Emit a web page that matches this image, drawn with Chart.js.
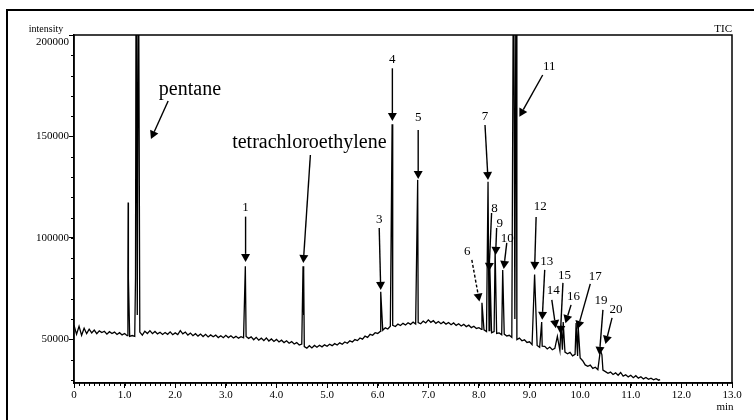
<!DOCTYPE html>
<html>
<head>
<meta charset="utf-8">
<script src="https://cdn.jsdelivr.net/npm/chart.js@4/dist/chart.umd.min.js"></script>
<style>
  html, body { margin: 0; padding: 0; background: #fff; overflow: hidden; }
  #wrap { position: relative; width: 754px; height: 420px; }
  #frame { position: absolute; left: 6px; top: 9px; width: 820px; height: 480px;
           border-top: 2.5px solid #000; border-left: 2.5px solid #000; pointer-events: none; }
</style>
</head>
<body>
<div id="wrap">
  <canvas id="tic" width="754" height="420"></canvas>
  <div id="frame"></div>
</div>
<script>
// retention time (min) and intensity of the noisy baseline
const baseTime = [
  0.00, 0.05, 0.10, 0.15, 0.20, 0.25, 0.30, 0.35, 0.40, 0.45, 0.50, 0.55, 0.60, 0.65, 0.70, 0.75, 0.80, 0.85, 0.90, 0.95,
  1.00, 1.05, 1.10, 1.15, 1.20, 1.30, 1.35, 1.40, 1.45, 1.50, 1.55, 1.60, 1.65, 1.70, 1.75, 1.80, 1.85, 1.90, 1.95,
  2.00, 2.05, 2.10, 2.15, 2.20, 2.25, 2.30, 2.35, 2.40, 2.45, 2.50, 2.55, 2.60, 2.65, 2.70, 2.75, 2.80, 2.85, 2.90, 2.95,
  3.00, 3.05, 3.10, 3.15, 3.20, 3.25, 3.30, 3.35, 3.40, 3.45, 3.50, 3.55, 3.60, 3.65, 3.70, 3.75, 3.80, 3.85, 3.90, 3.95,
  4.00, 4.05, 4.10, 4.15, 4.20, 4.25, 4.30, 4.35, 4.40, 4.45, 4.50, 4.55, 4.60, 4.65, 4.70, 4.75, 4.80, 4.85, 4.90, 4.95,
  5.00, 5.05, 5.10, 5.15, 5.20, 5.25, 5.30, 5.35, 5.40, 5.45, 5.50, 5.55, 5.60, 5.65, 5.70, 5.75, 5.80, 5.85, 5.90, 5.95,
  6.00, 6.05, 6.10, 6.15, 6.20, 6.25, 6.30, 6.35, 6.40, 6.45, 6.50, 6.55, 6.60, 6.65, 6.70, 6.75, 6.80, 6.85, 6.90, 6.95,
  7.00, 7.05, 7.10, 7.15, 7.20, 7.25, 7.30, 7.35, 7.40, 7.45, 7.50, 7.55, 7.60, 7.65, 7.70, 7.75, 7.80, 7.85, 7.90, 7.95,
  8.00, 8.05, 8.10, 8.15, 8.20, 8.25, 8.30, 8.35, 8.40, 8.45, 8.50, 8.55, 8.60, 8.65, 8.75, 8.80, 8.85, 8.90, 8.95,
  9.00, 9.05, 9.15, 9.20, 9.25, 9.30, 9.35, 9.40, 9.45, 9.50, 9.60, 9.65, 9.70, 9.75, 9.80, 9.85, 9.90, 9.95,
  10.00, 10.05, 10.10, 10.15, 10.20, 10.25, 10.30, 10.35, 10.45, 10.50, 10.55, 10.60, 10.65, 10.70, 10.75, 10.80, 10.85, 10.90, 10.95,
  11.00, 11.05, 11.10, 11.15, 11.20, 11.25, 11.30, 11.35, 11.40, 11.45, 11.50, 11.55, 11.58
];
const baseIntensity = [
  57000, 52500, 56500, 52000, 55500, 52800, 55000, 53200, 54600, 52800, 54200, 53400, 54000, 52600, 53800, 52900, 53600, 52400, 53300, 52200,
  52900, 51800, 51500, 51900, 51500, 53600, 52100, 54000, 52900, 54300, 52800, 53900, 52700, 53500, 52400, 53400, 52500, 53700, 52300,
  53200, 52400, 54300, 52700, 53600, 52100, 53100, 51800, 52800, 51600, 52600, 51400, 52500, 51200, 52200, 51300, 52100, 50900, 51800, 50800,
  52000, 50900, 51800, 50700, 51500, 50600, 51300, 50800, 51400, 50500, 51200, 49800, 51000, 49600, 50600, 49400, 50700, 49200, 50200, 49000,
  50000, 48700, 49600, 48400, 49300, 48100, 48900, 47700, 48400, 47200, 47700, 46400, 45700, 46900, 45800, 47000, 46100, 47100, 46300, 47300,
  46600, 47600, 46900, 47900, 47200, 48300, 47600, 48700, 48100, 49300, 48700, 49900, 49400, 50700, 50100, 51600, 51000, 52500, 52000, 53300,
  52900, 53900, 54500, 55700, 55100, 56500, 56900, 56300, 57500, 56800, 57900, 57100, 58200, 57400, 58500, 57600, 58300, 57700, 59000, 58100,
  59600, 58400, 59200, 57900, 58800, 57700, 58600, 57500, 58300, 57200, 58100, 56900, 57700, 56600, 57400, 56300, 57000, 55800, 56500, 55400,
  55800, 54900, 54700, 53900, 54300, 53300, 53800, 52900, 53200, 52300, 52600, 51700, 52000, 51000, 49900, 50600, 49300, 49800, 48500,
  48800, 47400, 47000, 46100, 46700, 46600, 45300, 46200, 44900, 45600, 44500, 44900, 43700, 42900, 43600, 41900, 42600, 41800,
  40800, 39500, 37400, 36700, 37300, 35700, 36300, 35100, 34900, 34100, 33300, 33900, 32700, 33500, 32300, 33700, 31900, 32600, 31500,
  32300, 31100, 32100, 30900, 31600, 30500, 31200, 30300, 30900, 30100, 30600, 29900, 30200
];

// peak apexes (some peaks are drawn as double lines)
const peakTime = [
  1.065, 1.07, 1.075, 1.215, 1.228, 1.25, 1.273, 3.385, 4.525, 4.535, 4.54,
  6.06, 6.285, 6.292, 6.298, 6.79, 8.06, 8.18, 8.215, 8.32, 8.47, 8.685, 8.71, 8.735,
  9.10, 9.24, 9.55, 9.62, 9.665, 9.92, 9.94, 9.96, 10.40, 10.43
];
const peakIntensity = [
  82000, 117500, 80000, 80000, 260000, 62000, 260000, 86000, 86000, 62000, 83000,
  73500, 156000, 62000, 152000, 128600, 68000, 127700, 86000, 94000, 84200, 260000, 60000, 260000,
  82000, 58500, 51500, 57000, 58500, 58000, 46000, 57000, 44800, 42400
];

const timeTicks = ['0', '1.0', '2.0', '3.0', '4.0', '5.0', '6.0', '7.0', '8.0', '9.0', '10.0', '11.0', '12.0', '13.0'];
const intensityTicks = [50000, 100000, 150000, 200000];

// labels and arrows, placed in (time, intensity)
const notes = [
  { text: 'pentane', t: 2.29, v: 170400, size: 20 },
  { text: 'tetrachloroethylene', t: 4.65, v: 144300, size: 20 },
  { text: '1', t: 3.39, v: 113450 }, { text: '3', t: 6.03, v: 107240 },
  { text: '4', t: 6.29, v: 185960 }, { text: '5', t: 6.80, v: 157780 },
  { text: '6', t: 7.77, v: 91620 }, { text: '7', t: 8.12, v: 158130 },
  { text: '8', t: 8.31, v: 112950 }, { text: '9', t: 8.41, v: 105570 },
  { text: '10', t: 8.56, v: 98180 }, { text: '11', t: 9.39, v: 182760 },
  { text: '12', t: 9.21, v: 113790 }, { text: '13', t: 9.34, v: 86700 },
  { text: '14', t: 9.47, v: 72270 }, { text: '15', t: 9.69, v: 79650 },
  { text: '16', t: 9.87, v: 69460 }, { text: '17', t: 10.30, v: 79310 },
  { text: '19', t: 10.41, v: 67490 }, { text: '20', t: 10.71, v: 63200 }
];
const arrows = [
  { from: [1.86, 167480], to: [1.52, 148770] },
  { from: [4.67, 140880], to: [4.53, 87680] },
  { from: [3.39, 110490], to: [3.39, 88180] },
  { from: [6.03, 104920], to: [6.06, 74380] },
  { from: [6.29, 183590], to: [6.29, 157630] },
  { from: [6.80, 153200], to: [6.80, 129060] },
  { from: [7.86, 89160], to: [8.01, 68620], dashed: true },
  { from: [8.12, 155670], to: [8.18, 128570] },
  { from: [8.25, 112310], to: [8.20, 83740] },
  { from: [8.35, 104920], to: [8.33, 91620] },
  { from: [8.55, 97540], to: [8.49, 84730] },
  { from: [9.26, 180290], to: [8.80, 159750] },
  { from: [9.13, 110340], to: [9.10, 84240] },
  { from: [9.30, 84240], to: [9.25, 59610] },
  { from: [9.44, 69460], to: [9.52, 55520] },
  { from: [9.66, 77830], to: [9.61, 52710] },
  { from: [9.82, 66990], to: [9.71, 57980] },
  { from: [10.20, 77340], to: [9.95, 55170] },
  { from: [10.45, 64530], to: [10.38, 42360] },
  { from: [10.63, 60590], to: [10.50, 47780] }
];

const SERIF = "'Liberation Serif', 'Times New Roman', serif";

// merge baseline and peaks into one trace sorted by time
const trace = baseTime.map((t, i) => ({ x: t, y: baseIntensity[i] }))
  .concat(peakTime.map((t, i) => ({ x: t, y: peakIntensity[i] })))
  .sort((a, b) => a.x - b.x);

function drawArrow(ctx, x1, y1, x2, y2, dashed) {
  const ang = Math.atan2(y2 - y1, x2 - x1);
  const len = 8, half = 4.5;
  const bx = x2 - len * Math.cos(ang), by = y2 - len * Math.sin(ang);
  ctx.beginPath();
  ctx.setLineDash(dashed ? [3, 2] : []);
  ctx.moveTo(x1, y1);
  ctx.lineTo(bx, by);
  ctx.stroke();
  ctx.setLineDash([]);
  ctx.beginPath();
  ctx.moveTo(x2, y2);
  ctx.lineTo(bx + half * Math.sin(ang), by - half * Math.cos(ang));
  ctx.lineTo(bx - half * Math.sin(ang), by + half * Math.cos(ang));
  ctx.closePath();
  ctx.fill();
}

const decor = {
  id: 'decor',
  afterDraw(chart) {
    const { ctx, chartArea: a, scales: { x, y } } = chart;
    ctx.save();
    ctx.strokeStyle = '#000';
    ctx.fillStyle = '#000';

    // plot box
    ctx.lineWidth = 1.5;
    ctx.strokeRect(a.left, a.top, a.right - a.left, a.bottom - a.top);

    // minor ticks
    ctx.lineWidth = 1;
    ctx.beginPath();
    for (let i = 0; i <= 130; i++) {
      const px = Math.round(x.getPixelForValue(i / 10)) + 0.5;
      ctx.moveTo(px, a.bottom);
      ctx.lineTo(px, a.bottom + 3);
    }
    for (let v = 30000; v <= 200000; v += 10000) {
      const py = Math.round(y.getPixelForValue(v)) + 0.5;
      ctx.moveTo(a.left, py);
      ctx.lineTo(a.left - 3, py);
    }
    ctx.stroke();

    // y tick labels (top one sits just under the frame)
    ctx.font = '11px ' + SERIF;
    ctx.textAlign = 'right';
    ctx.textBaseline = 'middle';
    intensityTicks.forEach(v => {
      const py = Math.max(y.getPixelForValue(v), a.top + 7);
      ctx.fillText(String(v), a.left - 5, py);
    });

    // axis captions
    ctx.textAlign = 'center';
    ctx.font = '10px ' + SERIF;
    ctx.fillText('intensity', a.left - 28, a.top - 6);
    ctx.font = '11px ' + SERIF;
    ctx.textAlign = 'right';
    ctx.fillText('TIC', a.right, a.top - 6);
    ctx.textAlign = 'center';
    ctx.fillText('min', a.right - 7, a.bottom + 24);

    // peak labels
    ctx.textBaseline = 'alphabetic';
    notes.forEach(n => {
      ctx.font = (n.size || 13) + 'px ' + SERIF;
      ctx.fillText(n.text, x.getPixelForValue(n.t), y.getPixelForValue(n.v));
    });

    ctx.lineWidth = 1.4;
    arrows.forEach(ar => {
      drawArrow(ctx,
        x.getPixelForValue(ar.from[0]), y.getPixelForValue(ar.from[1]),
        x.getPixelForValue(ar.to[0]), y.getPixelForValue(ar.to[1]), ar.dashed);
    });
    ctx.restore();
  }
};

new Chart(document.getElementById('tic'), {
  type: 'line',
  data: {
    datasets: [{
      data: trace,
      borderColor: '#000',
      borderWidth: 1.3,
      pointRadius: 0,
      tension: 0,
      fill: false
    }]
  },
  options: {
    responsive: false,
    animation: false,
    layout: { padding: { top: 35, right: 22, left: 0, bottom: 0 } },
    plugins: { legend: { display: false }, tooltip: { enabled: false } },
    scales: {
      x: {
        type: 'linear',
        min: 0,
        max: 13,
        ticks: {
          stepSize: 1,
          autoSkip: false,
          maxRotation: 0,
          padding: 1,
          color: '#000',
          font: { family: SERIF, size: 11 },
          callback: v => timeTicks[Math.round(v)]
        },
        grid: { drawOnChartArea: false, tickLength: 5, color: '#000' },
        border: { color: '#000', width: 1.5 },
        afterFit(s) { s.height = 37; }
      },
      y: {
        min: 28500,
        max: 200000,
        ticks: { display: false },
        afterBuildTicks(s) { s.ticks = intensityTicks.map(v => ({ value: v })); },
        grid: { drawOnChartArea: false, tickLength: 5, color: '#000' },
        border: { color: '#000', width: 1.5 },
        afterFit(s) { s.width = 74; }
      }
    }
  },
  plugins: [decor]
});
</script>
</body>
</html>
